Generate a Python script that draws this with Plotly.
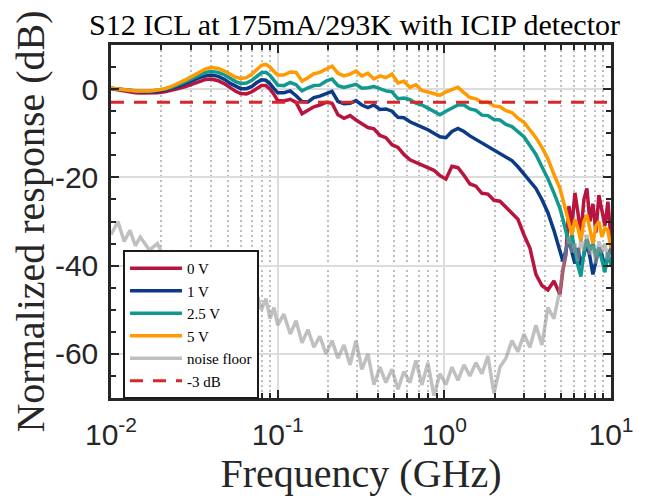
import plotly.graph_objects as go

# Frequency grid (GHz) shared by all measured traces
freq_ghz = [
    0.010, 0.011, 0.012, 0.013, 0.014, 0.015, 0.017, 0.019, 0.021, 0.023,
    0.025, 0.028, 0.031, 0.034, 0.037, 0.040, 0.044, 0.048, 0.052, 0.056,
    0.060, 0.065, 0.070, 0.075, 0.080, 0.085, 0.090, 0.095,
    0.100, 0.109, 0.119, 0.129, 0.140, 0.152, 0.165, 0.179, 0.195, 0.212,
    0.230, 0.250, 0.272, 0.295, 0.320, 0.348, 0.378, 0.411, 0.446, 0.485,
    0.527, 0.572, 0.622, 0.675, 0.734, 0.797, 0.866, 0.941, 1.022, 1.111,
    1.207, 1.311, 1.424, 1.547, 1.681, 1.826, 1.984, 2.156, 2.342, 2.544,
    2.764, 3.003, 3.262, 3.544, 3.850, 4.183, 4.544, 4.937, 5.146, 5.364,
    5.591, 5.828, 6.075, 6.332, 6.598, 6.877, 7.168, 7.472, 7.788, 8.118,
    8.461, 8.819, 9.193, 9.582, 9.990,
]

resp_0v = [
    0.1, -0.2, -0.5, -0.7, -0.8, -0.9, -0.9, -0.8, -0.6, -0.3,
    0.1, 0.6, 1.2, 1.8, 2.2, 2.3, 1.9, 1.2, 0.3, -0.5,
    -1.0, -1.1, -0.6, 0.2, 0.8, 0.8, 0.0, -1.2,
    -2.6, -2.7, -2.3, -3.0, -5.6, -4.8, -4.0, -3.6, -3.0, -3.2,
    -5.8, -6.6, -6.0, -7.0, -7.8, -8.7, -9.0, -10.5, -11.0, -12.6,
    -13.2, -14.8, -16.0, -16.6, -17.2, -17.9, -18.4, -19.6, -20.4, -17.5,
    -17.8, -19.5, -21.5, -22.0, -23.6, -23.8, -25.2, -25.4, -26.8, -28.0,
    -29.5, -33.0, -36.0, -42.0, -44.5, -45.5, -43.5, -46.5, -41.0, -37.5,
    -26.5, -31.0, -23.5, -28.0, -33.0, -25.0, -22.5, -30.0, -26.0, -32.5,
    -24.0, -27.5, -31.0, -25.5, -34.0,
]

resp_1v = [
    0.2, 0.0, -0.2, -0.4, -0.5, -0.6, -0.6, -0.5, -0.2, 0.2,
    0.6, 1.3, 2.0, 2.6, 3.0, 3.2, 2.9, 2.2, 1.3, 0.6,
    0.1, 0.1, 0.6, 1.5, 2.1, 2.0, 1.2, 0.1,
    -0.8, -0.8, -0.4, -1.5, -2.8, -2.9, -1.9, -1.6, -1.0, -0.5,
    -2.8, -3.3, -3.2, -2.6, -3.6, -4.2, -3.6, -4.6, -4.5, -5.0,
    -6.4, -6.5, -7.4, -8.1, -8.6, -9.2, -10.0, -10.8, -11.0, -9.6,
    -8.9, -9.6, -10.6, -11.4, -12.2, -13.0, -13.6, -14.4, -15.2, -16.2,
    -17.6, -19.2, -20.8, -22.5, -25.0, -28.0, -32.0, -36.5, -39.0, -36.5,
    -34.0, -37.0, -39.5, -36.0, -40.0, -37.5, -35.0, -38.0, -42.0, -39.0,
    -36.0, -37.5, -40.5, -38.0, -36.0,
]

resp_2p5v = [
    0.2, 0.0, -0.2, -0.3, -0.4, -0.5, -0.5, -0.3, 0.0, 0.4,
    0.9, 1.7, 2.5, 3.2, 3.8, 4.0, 3.8, 3.2, 2.4, 1.7,
    1.3, 1.4, 2.0, 3.0, 3.7, 3.8, 3.1, 2.0,
    0.9, 0.8, 1.5, 1.0, -0.4, 0.3, 0.8, 0.9, 1.8, 2.3,
    0.8, 0.4, 0.7, 1.1, 0.2, 0.3, 0.6, 0.0, -0.4, -0.6,
    -2.2, -2.0, -2.4, -3.2, -3.6, -4.3, -5.0, -5.8, -5.0, -4.2,
    -3.6, -3.6, -4.5, -4.8, -5.9, -6.0, -6.9, -7.0, -8.0, -8.5,
    -9.7, -10.8, -12.8, -14.8, -17.6, -20.3, -23.5, -27.0, -29.5, -32.0,
    -35.0, -33.0, -37.0, -40.0, -42.5, -37.0, -34.0, -36.5, -35.0, -38.0,
    -36.0, -39.0, -41.5, -37.0, -40.0,
]

resp_5v = [
    0.2, 0.0, -0.2, -0.3, -0.4, -0.4, -0.4, -0.2, 0.1, 0.6,
    1.2, 2.1, 3.0, 3.9, 4.6, 4.9, 4.7, 4.1, 3.3, 2.7,
    2.4, 2.6, 3.4, 4.5, 5.4, 5.6, 5.0, 4.0,
    3.2, 3.2, 3.9, 3.8, 1.8, 2.6, 3.5, 3.8, 4.6, 5.2,
    3.6, 3.0, 3.4, 4.1, 3.0, 3.6, 2.3, 3.0, 2.6, 3.4,
    1.4, 1.8, 0.4, 1.0, -0.3, -0.7, -1.0, -1.4, -0.6, 0.0,
    0.4, -0.8, -1.9, -2.2, -3.0, -2.9, -3.8, -4.0, -4.9, -5.3,
    -6.6, -7.5, -9.3, -11.0, -13.2, -15.8, -19.3, -22.5, -25.0, -27.5,
    -30.5, -33.0, -29.5, -31.5, -34.5, -30.0, -28.5, -32.0, -35.0, -31.0,
    -30.0, -33.5, -31.5, -32.0, -36.0,
]

noise_floor = [
    -33.0, -30.0, -34.5, -32.0, -35.5, -33.5, -36.5, -35.0, -38.5, -37.0,
    -40.0, -38.5, -42.0, -40.0, -43.5, -41.5, -45.0, -43.0, -46.5, -44.5,
    -47.5, -45.5, -49.0, -46.5, -50.0, -47.5, -52.0, -49.5,
    -53.5, -51.0, -55.5, -52.5, -57.5, -54.5, -58.5, -56.0, -60.0, -57.0,
    -61.0, -58.0, -62.5, -57.0, -63.5, -60.0, -67.0, -63.0, -66.5, -63.5,
    -68.0, -64.0, -66.5, -61.5, -67.0, -62.0, -69.5, -64.5, -67.0, -63.0,
    -66.0, -62.5, -65.0, -62.0, -64.5, -60.5, -69.0, -63.0, -61.0, -57.0,
    -59.5, -55.5, -58.5, -53.5, -58.0, -49.5, -52.0, -45.5, -41.0, -36.5,
    -33.5, -37.0, -35.0, -39.0, -34.0, -36.5, -33.0, -37.5, -35.5, -39.5,
    -34.5, -37.0, -35.0, -38.5, -36.0,
]

threshold_db = -3
x_span = [0.01, 10]

series_names = ["0 V", "1 V", "2.5 V", "5 V", "noise floor"]
series_colors = ["#B8143E", "#0B3A87", "#12998F", "#FF9A00", "rgba(150,150,150,0.6)"]
threshold_color = "#D8272B"

x_tick_vals = [0.01, 0.1, 1, 10]
x_tick_text = ["10<sup>-2</sup>", "10<sup>-1</sup>", "10<sup>0</sup>", "10<sup>1</sup>"]
y_tick_vals = [0, -20, -40, -60]
y_tick_text = ["0", "-20", "-40", "-60"]
x_minor_vals = [m * d for d in (0.01, 0.1, 1) for m in range(2, 10)]

serif = "Liberation Serif"
sans = "Liberation Sans"
axis_col = "#262626"

fig = go.Figure()
for name, vals, col in zip(series_names,
                           [resp_0v, resp_1v, resp_2p5v, resp_5v, noise_floor],
                           series_colors):
    fig.add_trace(go.Scatter(x=freq_ghz, y=vals, mode="lines", name=name,
                             line=dict(color=col, width=3.5)))
fig.add_trace(go.Scatter(x=x_span, y=[threshold_db] * len(x_span), mode="lines",
                         name="-3 dB",
                         line=dict(color=threshold_color, width=3, dash="13px,10px")))

fig.update_layout(
    template="none",
    width=655, height=502,
    margin=dict(l=103, r=52, t=37, b=112, autoexpand=False),
    paper_bgcolor="white", plot_bgcolor="white",
    title=dict(text="S12 ICL at 175mA/293K with ICIP detector",
               font=dict(family=serif, size=30, color="black"),
               x=0.529, xanchor="center", y=0.967, yanchor="middle"),
    showlegend=True,
    legend=dict(x=0.024, y=0.419, xanchor="left", yanchor="top",
                bgcolor="white", bordercolor="#1a1a1a", borderwidth=2,
                font=dict(family=serif, size=15, color="black"),
                itemwidth=52, tracegroupgap=0),
)

fig.update_xaxes(
    type="log", range=[-2, 1], automargin=False,
    tickmode="array", tickvals=x_tick_vals, ticktext=x_tick_text,
    tickfont=dict(family=sans, size=30, color=axis_col),
    ticks="inside", ticklen=8, tickwidth=2, tickcolor=axis_col,
    ticklabelstandoff=8,
    showline=True, linecolor=axis_col, linewidth=2.5, mirror="ticks",
    showgrid=True, gridcolor="#DCDCDC", gridwidth=2, zeroline=False,
    minor=dict(tickmode="array", tickvals=x_minor_vals, ticks="inside",
               ticklen=5, tickwidth=2, tickcolor=axis_col,
               showgrid=True, gridcolor="#BDBDBD", gridwidth=2, griddash="2px,3px"),
    title=dict(text="Frequency (GHz)", font=dict(family=serif, size=40, color=axis_col),
               standoff=8),
)
fig.update_yaxes(
    range=[-70, 10], automargin=False,
    tickmode="array", tickvals=y_tick_vals, ticktext=y_tick_text,
    tickfont=dict(family=sans, size=30, color=axis_col),
    ticks="inside", ticklen=8, tickwidth=2, tickcolor=axis_col,
    ticklabelstandoff=4,
    showline=True, linecolor=axis_col, linewidth=2.5, mirror="ticks",
    showgrid=True, gridcolor="#DCDCDC", gridwidth=2, zeroline=False,
    minor=dict(dtick=5, tick0=0, ticks="inside", ticklen=5, tickwidth=2,
               tickcolor=axis_col, showgrid=False),
    title=dict(text="Normalized response (dB)", font=dict(family=serif, size=40, color=axis_col),
               standoff=22),
)

fig.write_html("out.html")
